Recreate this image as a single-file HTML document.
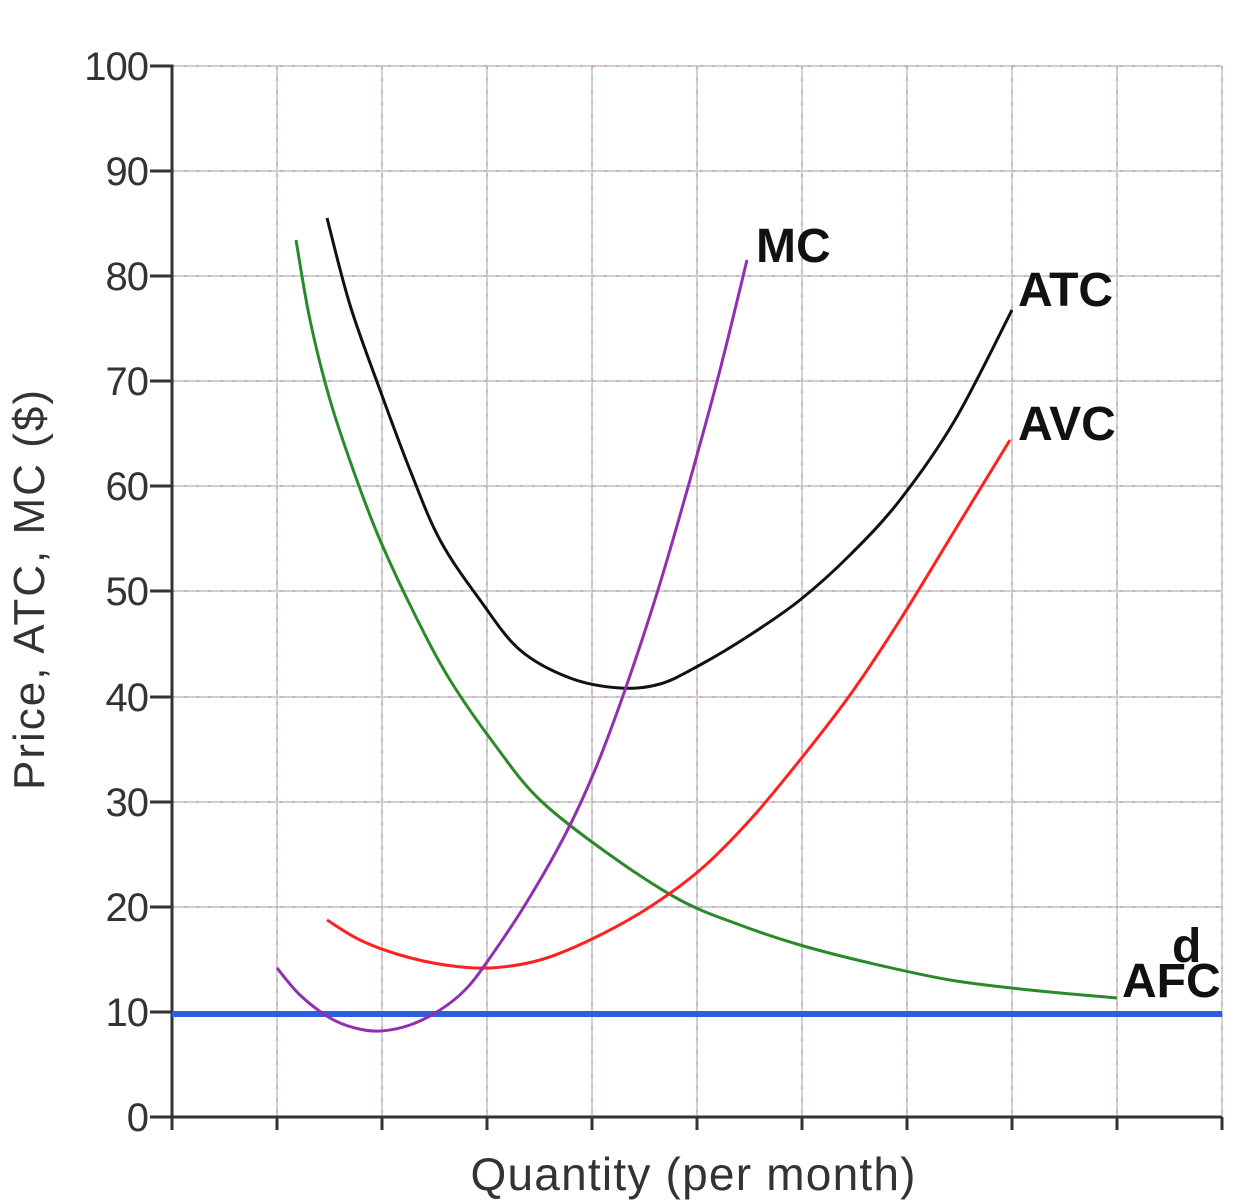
<!DOCTYPE html>
<html><head><style>body{margin:0;background:#fff}svg{display:block}</style></head><body>
<svg id="s" width="1244" height="1200" xmlns="http://www.w3.org/2000/svg" font-family="Liberation Sans, sans-serif">
<g stroke="#c9d6c9" stroke-width="2">
<line x1="277" y1="66" x2="277" y2="1117"/><line x1="382" y1="66" x2="382" y2="1117"/><line x1="487" y1="66" x2="487" y2="1117"/><line x1="592" y1="66" x2="592" y2="1117"/><line x1="697" y1="66" x2="697" y2="1117"/><line x1="802" y1="66" x2="802" y2="1117"/><line x1="907" y1="66" x2="907" y2="1117"/><line x1="1012" y1="66" x2="1012" y2="1117"/><line x1="1117" y1="66" x2="1117" y2="1117"/><line x1="1222" y1="66" x2="1222" y2="1117"/>
<line x1="172" y1="66" x2="1222" y2="66"/><line x1="172" y1="171" x2="1222" y2="171"/><line x1="172" y1="276" x2="1222" y2="276"/><line x1="172" y1="381" x2="1222" y2="381"/><line x1="172" y1="486" x2="1222" y2="486"/><line x1="172" y1="591" x2="1222" y2="591"/><line x1="172" y1="697" x2="1222" y2="697"/><line x1="172" y1="802" x2="1222" y2="802"/><line x1="172" y1="907" x2="1222" y2="907"/><line x1="172" y1="1012" x2="1222" y2="1012"/>
</g>
<g stroke="#d8a8d8" stroke-width="2" stroke-dasharray="3 9">
<path d="M277 66V1117M382 66V1117M487 66V1117M592 66V1117M697 66V1117M802 66V1117M907 66V1117M1012 66V1117M1117 66V1117M1222 66V1117M172 66H1222M172 171H1222M172 276H1222M172 381H1222M172 486H1222M172 591H1222M172 697H1222M172 802H1222M172 907H1222M172 1012H1222"/>
</g>
<g stroke="#333" stroke-width="3" fill="none">
<polyline points="150,66 172,66 172,1117 1222,1117"/>
<path d="M150 171H172M150 276H172M150 381H172M150 486H172M150 591H172M150 697H172M150 802H172M150 907H172M150 1012H172M150 1117H172M172 1117V1130M277 1117V1130M382 1117V1130M487 1117V1130M592 1117V1130M697 1117V1130M802 1117V1130M907 1117V1130M1012 1117V1130M1117 1117V1130M1222 1117V1130"/>
</g>
<g font-size="40" fill="#333" text-anchor="end" letter-spacing="-1">
<text x="148" y="80">100</text><text x="148" y="185">90</text><text x="148" y="290">80</text><text x="148" y="395">70</text><text x="148" y="500">60</text><text x="148" y="605">50</text><text x="148" y="711">40</text><text x="148" y="816">30</text><text x="148" y="921">20</text><text x="148" y="1026">10</text><text x="148" y="1131">0</text>
</g>
<text x="693" y="1190" font-size="46" fill="#333" text-anchor="middle" textLength="445">Quantity (per month)</text>
<text transform="translate(44,590) rotate(-90)" font-size="44" fill="#333" text-anchor="middle" textLength="400">Price, ATC, MC ($)</text>
<line x1="172" y1="1014" x2="1222" y2="1014" stroke="#2b5fe0" stroke-width="6"/>
<g fill="none" stroke-width="3" stroke-linejoin="round">
<polyline class="c" stroke="#2a8a2a" points="296,240 310,320 330,400 355,475 380,540 415,615 450,680 495,745 540,800 610,855 680,900 740,925 800,945 870,963 950,980 1030,990 1117,998"/>
<polyline class="c" stroke="#ff2020" points="327,920 360,940 400,955 445,965 490,968 540,960 590,940 645,910 700,870 750,820 800,760 850,695 900,620 955,530 1010,440"/>
<polyline class="c" stroke="#111" points="327,218 350,305 380,390 410,470 440,540 480,600 520,650 570,678 620,688 660,684 700,665 750,635 800,600 850,555 900,500 955,420 1012,310"/>
<polyline class="c" stroke="#9030b0" points="277,968 300,995 330,1018 355,1028 380,1031 410,1025 440,1010 465,990 487,962 525,905 565,835 595,770 625,690 658,590 690,480 720,370 747,260"/>
</g>
<g font-size="48" font-weight="bold" fill="#111">
<text x="756" y="262">MC</text><text x="1018" y="306">ATC</text><text x="1018" y="440">AVC</text><text x="1122" y="997">AFC</text><text x="1172" y="962">d</text>
</g>
</svg>
<script>
document.querySelectorAll('polyline.c').forEach(function(pl){
 var p=pl.getAttribute('points').trim().split(/\s+/).map(function(s){return s.split(',').map(Number);});
 var d='M'+p[0][0]+' '+p[0][1];
 for(var i=0;i<p.length-1;i++){
  var p0=p[i-1]||p[i],p1=p[i],p2=p[i+1],p3=p[i+2]||p2;
  d+=' C'+(p1[0]+(p2[0]-p0[0])/6)+' '+(p1[1]+(p2[1]-p0[1])/6)+' '+(p2[0]-(p3[0]-p1[0])/6)+' '+(p2[1]-(p3[1]-p1[1])/6)+' '+p2[0]+' '+p2[1];
 }
 var path=document.createElementNS('http://www.w3.org/2000/svg','path');
 path.setAttribute('d',d);path.setAttribute('stroke',pl.getAttribute('stroke'));
 pl.parentNode.replaceChild(path,pl);
});
</script>
</body></html>
